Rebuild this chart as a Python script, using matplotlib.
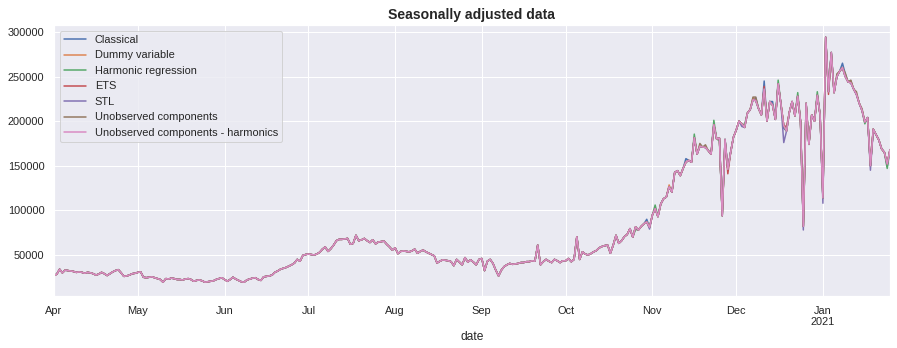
import numpy as np
import pandas as pd
import matplotlib
matplotlib.use("Agg")
import matplotlib.pyplot as plt
import seaborn as sns

# ---------------- data ----------------
start_date = "2020-04-01"

apr = [27000, 28500, 34000, 30000, 33000, 32500, 32000, 31500, 30500, 31000,
       30500, 29500, 30500, 30000, 29000, 27500, 28500, 30500, 29000, 27000,
       29000, 31000, 32500, 33500, 30000, 26000, 26500, 27500, 29000, 29500]
may = [30500, 31000, 25000, 24500, 25000, 25500, 24500, 23500, 22500, 19500,
       23500, 23000, 24000, 23500, 22500, 22500, 22000, 23000, 23500, 22500,
       20500, 21500, 22000, 21000, 19500, 20000, 20500, 21000, 22500, 23500, 24500]
jun = [22500, 20500, 22500, 25000, 23000, 21500, 20000, 19500, 22000, 23000,
       24000, 24500, 22500, 21500, 25500, 26000, 26500, 27500, 30500, 32000,
       34000, 35000, 36000, 37500, 39000, 41000, 45000, 43000, 49500, 50500]
jul = [51000, 50500, 50000, 51000, 53000, 56500, 59000, 54000, 57000, 61000,
       66000, 67500, 67500, 68000, 68500, 62000, 63000, 72000, 66000, 67000,
       68500, 66000, 64000, 67000, 62500, 64500, 65000, 65500, 62000, 59000, 55500]
aug = [58000, 51500, 54000, 54500, 54000, 53500, 54500, 56500, 52000, 54000,
       55500, 53500, 52000, 50500, 49000, 41000, 43000, 44500, 44000, 43500,
       42500, 38000, 45000, 42000, 39000, 47000, 42000, 44500, 42000, 39000, 45000]
sep = [46000, 32500, 43000, 45000, 40500, 33000, 26500, 33000, 37000, 39000,
       40500, 39500, 40000, 40500, 41500, 41500, 42500, 42500, 43500, 43000,
       61000, 39000, 42500, 45000, 43000, 41500, 45000, 43500, 41500, 43500]
oct_ = [43500, 46000, 42500, 45000, 70500, 45000, 53500, 51000, 50000, 51500,
        53500, 55000, 58000, 59500, 60500, 61000, 52000, 61000, 72000, 63000,
        66000, 70500, 73000, 79500, 70000, 81500, 78000, 82000, 85000, 87000, 81000]
nov = [94500, 102000, 93000, 107000, 113000, 115000, 126500, 120500, 142500, 144500,
       139000, 147000, 154000, 156000, 154000, 181500, 163000, 172000, 171000, 170500,
       167000, 163000, 196000, 180000, 181000, 94000, 179500, 146000, 165000, 182000]
dec = [190000, 200000, 197000, 193000, 209000, 213000, 224000, 223000, 214000, 207000,
       236000, 200000, 222000, 218000, 202000, 242000, 219000, 195000, 189000, 210000,
       222000, 206000, 228000, 200000, 82000, 220000, 174000, 207000, 200000, 229000, 207000]
jan = [114000, 294000, 233000, 277000, 232000, 250000, 256000, 260000, 250000, 244000,
       243000, 236000, 230000, 220000, 212000, 199000, 204000, 150000, 191000, 185000,
       179000, 169000, 165000, 152000, 168000]

# per-method departures (day index -> difference from the harmonics UC line)
classical_dev = {212: 3000, 226: 4000, 251: 3000, 254: 9000, 257: 4000,
                 261: -3000, 282: 5000, 283: 3000, 293: -2000, 298: -3000}
dummy_dev = {220: 2000, 240: -2000, 250: 2000, 278: -2000}
harmonic_dev = {208: -3000, 215: 4000, 229: 4000, 236: 5000, 238: -3000,
                247: 3000, 259: 4000, 266: 4000, 273: 4000, 277: 3000,
                290: -2000, 298: -5000}
ets_dev = {241: -5000, 254: 3000, 262: 5000, 277: -3000, 285: 2000}
stl_dev = {213: -2000, 261: -19000, 268: -4000, 275: -6000, 292: -5000, 246: -3000}
uc_dev = {231: 3000, 233: 3000, 250: 3000, 251: 4000, 280: 3000,
          283: 4000, 285: 3000, 287: 3000, 289: 2000}

series_names = ["Classical", "Dummy variable", "Harmonic regression", "ETS",
                "STL", "Unobserved components",
                "Unobserved components - harmonics"]

# ---------------- build frame ----------------
base = np.array(apr + may + jun + jul + aug + sep + oct_ + nov + dec + jan, dtype=float)
dates = pd.date_range(start_date, periods=len(base), freq="D", name="date")


def with_dev(dev):
    s = base.copy()
    for k, v in dev.items():
        s[k] += v
    return s


devs = [classical_dev, dummy_dev, harmonic_dev, ets_dev, stl_dev, uc_dev, {}]
df = pd.DataFrame({n: with_dev(d) for n, d in zip(series_names, devs)}, index=dates)

# ---------------- plot ----------------
sns.set_theme()
plt.rcParams["font.family"] = ["Liberation Sans", "DejaVu Sans"]

W, H, DPI = 897, 348, 72
fig, ax = plt.subplots(figsize=(W / DPI, H / DPI), dpi=DPI)
fig.subplots_adjust(left=54 / W, right=890 / W, top=1 - 25 / H, bottom=1 - 296 / H)

df.plot(ax=ax)
ax.set_ylim(4000, 307800)
ax.set_title("Seasonally adjusted data", fontsize=14, fontweight="bold")
ax.legend(loc="upper left", fontsize=11)

fig.savefig("out.png", dpi=DPI)
